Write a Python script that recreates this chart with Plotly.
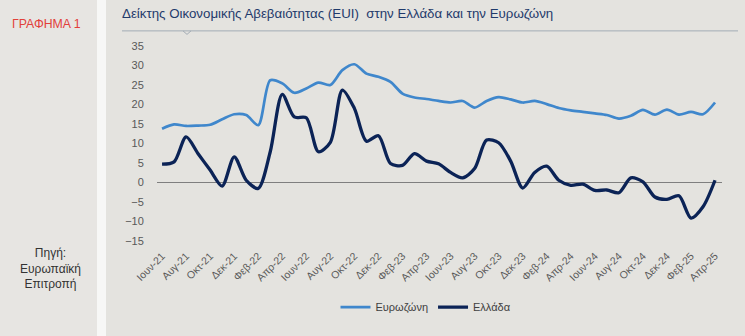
import plotly.graph_objects as go

months = ["Ιουν-21", "Ιουλ-21", "Αυγ-21", "Σεπ-21", "Οκτ-21", "Νοε-21", "Δεκ-21",
          "Ιαν-22", "Φεβ-22", "Μαρ-22", "Απρ-22", "Μαϊ-22", "Ιουν-22", "Ιουλ-22",
          "Αυγ-22", "Σεπ-22", "Οκτ-22", "Νοε-22", "Δεκ-22", "Ιαν-23", "Φεβ-23",
          "Μαρ-23", "Απρ-23", "Μαϊ-23", "Ιουν-23", "Ιουλ-23", "Αυγ-23", "Σεπ-23",
          "Οκτ-23", "Νοε-23", "Δεκ-23", "Ιαν-24", "Φεβ-24", "Μαρ-24", "Απρ-24",
          "Μαϊ-24", "Ιουν-24", "Ιουλ-24", "Αυγ-24", "Σεπ-24", "Οκτ-24", "Νοε-24",
          "Δεκ-24", "Ιαν-25", "Φεβ-25", "Μαρ-25", "Απρ-25"]

eurozone = [13.8, 14.9, 14.5, 14.6, 14.8, 16.2, 17.5, 17.3, 14.7, 26.2, 25.4, 23.0,
            24.1, 25.6, 25.0, 28.8, 30.3, 27.9, 27.1, 25.8, 22.8, 21.8, 21.4, 20.9,
            20.5, 20.9, 19.2, 20.9, 21.9, 21.3, 20.5, 20.9, 20.1, 19.1, 18.5, 18.1,
            17.7, 17.3, 16.4, 17.1, 18.6, 17.4, 18.7, 17.4, 18.1, 17.5, 20.5]

greece = [4.7, 5.3, 11.7, 7.4, 3.2, -0.9, 6.6, 0.6, -1.5, 7.9, 22.6, 16.8,
          16.6, 7.9, 10.3, 23.7, 19.0, 10.6, 12.0, 4.9, 4.4, 7.4, 5.5, 4.8,
          2.6, 1.2, 3.6, 10.9, 10.2, 5.5, -1.4, 2.6, 4.2, 0.6, -0.7, -0.4,
          -2.0, -1.9, -2.6, 1.2, 0.2, -3.7, -4.3, -3.4, -9.1, -6.2, 0.6]

tick_labels = months[::2]
y_ticks = [35, 30, 25, 20, 15, 10, 5, 0, -5, -10, -15]

W, H = 745, 336
PL, PR = 157, 722
PT, PB = 42.1, 246.9
FONT = "Arial, Liberation Sans, sans-serif"


def px(x):
    return (x - PL) / (PR - PL)


def py(y):
    return (PB - y) / (PB - PT)


fig = go.Figure()
fig.add_trace(go.Scatter(x=months, y=eurozone, name="Ευρωζώνη", mode="lines",
                         line=dict(color="#3f87cc", width=2.7, shape="spline", smoothing=0.8)))
fig.add_trace(go.Scatter(x=months, y=greece, name="Ελλάδα", mode="lines",
                         line=dict(color="#0b2356", width=3.3, shape="spline", smoothing=0.8)))

shapes = [
    dict(type="rect", xref="paper", yref="paper", x0=px(0), x1=px(97), y0=py(0), y1=py(H),
         fillcolor="#e7e5e2", line=dict(width=0), layer="below"),
    dict(type="rect", xref="paper", yref="paper", x0=px(97), x1=px(106), y0=py(0), y1=py(H),
         fillcolor="#f7f7f6", line=dict(width=0), layer="below"),
    dict(type="line", xref="paper", yref="paper", x0=px(122), x1=px(738), y0=py(31), y1=py(31),
         line=dict(color="#a3acb5", width=1)),
    dict(type="path", xref="paper", yref="paper",
         path=f"M {px(183)} {py(31)} L {px(187)} {py(34.5)} L {px(191)} {py(31)}",
         line=dict(color="#a3acb5", width=1)),
]

annotations = [
    dict(text="ΓΡΑΦΗΜΑ 1", xref="paper", yref="paper", x=px(46), y=py(24),
         xanchor="center", yanchor="middle", showarrow=False,
         font=dict(family=FONT, size=12.3, color="#e2403a")),
    dict(text="Πηγή:<br>Ευρωπαϊκή<br>Επιτροπή", xref="paper", yref="paper", x=px(50), y=py(268),
         xanchor="center", yanchor="middle", showarrow=False, align="center",
         font=dict(family=FONT, size=12, color="#333333")),
]

fig.update_layout(
    width=W, height=H,
    margin=dict(l=PL, r=W - PR, t=PT, b=H - PB, pad=0),
    paper_bgcolor="#e4e3df", plot_bgcolor="#e4e3df",
    title=dict(text="Δείκτης Οικονομικής Αβεβαιότητας (EUI)  στην Ελλάδα και την Ευρωζώνη",
               x=122 / W, xanchor="left", xref="container",
               y=1 - 13 / H, yanchor="middle", yref="container",
               font=dict(family=FONT, size=13.3, color="#1f3a6b")),
    shapes=shapes,
    annotations=annotations,
    showlegend=True,
    legend=dict(orientation="h", x=px(426), y=py(307), xanchor="center", yanchor="middle",
                font=dict(family=FONT, size=11, color="#404040"), bgcolor="rgba(0,0,0,0)",
                itemwidth=30, tracegroupgap=0),
    xaxis=dict(type="category", range=[-0.42, 46.58], tickmode="array",
               tickvals=tick_labels, ticktext=tick_labels, tickangle=-45,
               showgrid=False, zeroline=False, showline=False, ticks="",
               tickfont=dict(family=FONT, size=10.5, color="#595959"), fixedrange=True),
    yaxis=dict(range=[-16.5, 36], tickmode="array", tickvals=y_ticks,
               showgrid=False, zeroline=True, zerolinecolor="#7f7f7f", zerolinewidth=1,
               showline=False, ticks="outside", ticklen=10, tickcolor="rgba(0,0,0,0)",
               tickfont=dict(family=FONT, size=11, color="#595959"), fixedrange=True),
    hovermode=False,
)

fig.write_html("out.html")
